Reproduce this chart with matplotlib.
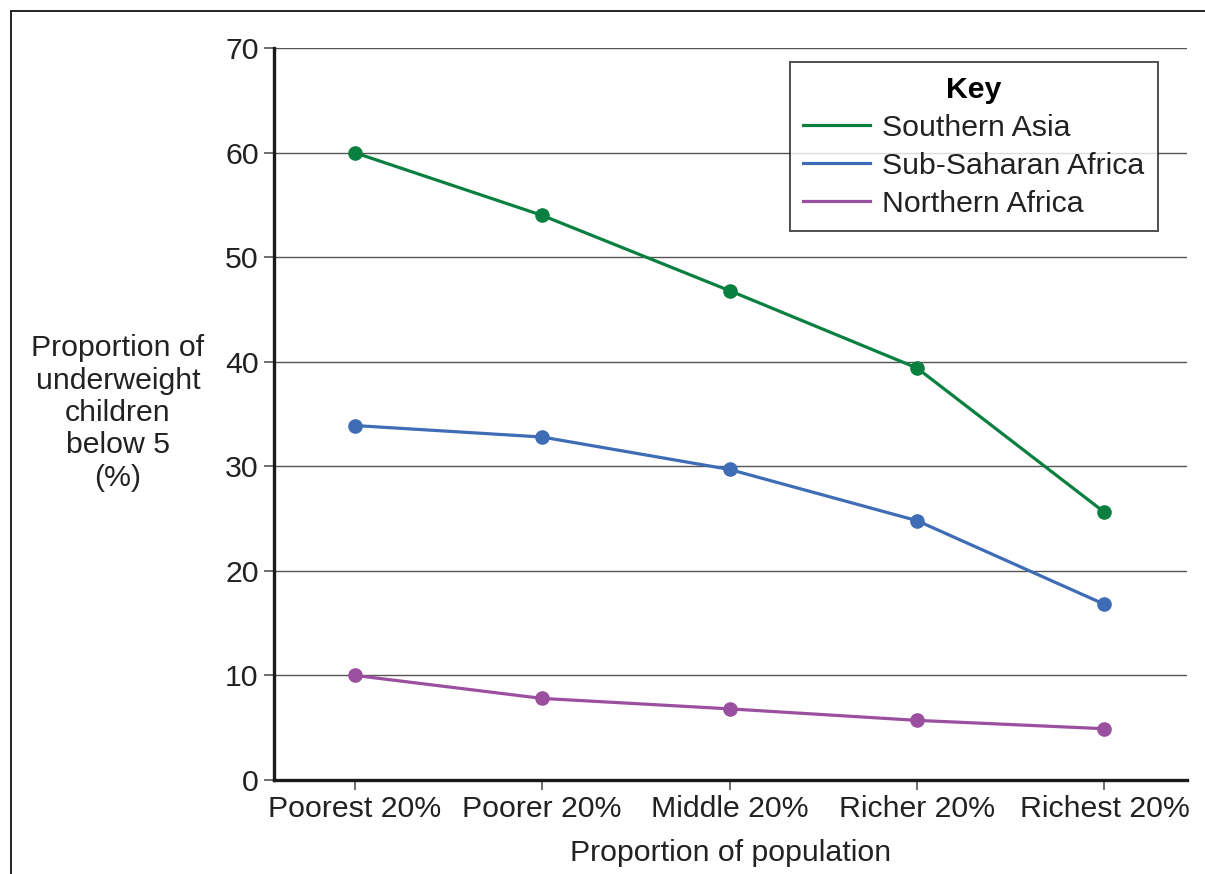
import matplotlib.pyplot as plt
from matplotlib.patches import Rectangle

plt.rcParams["font.family"] = ["Liberation Sans", "DejaVu Sans"]

# data
categories = ["Poorest 20%", "Poorer 20%", "Middle 20%", "Richer 20%", "Richest 20%"]
southern_asia = [60.0, 54.0, 46.8, 39.4, 25.6]
sub_saharan = [33.9, 32.8, 29.7, 24.8, 16.8]
northern_africa = [10.0, 7.8, 6.8, 5.7, 4.9]

series = [
    ("Southern Asia", southern_asia, "#0a8040"),
    ("Sub-Saharan Africa", sub_saharan, "#3e6cb5"),
    ("Northern Africa", northern_africa, "#9b4f9f"),
]

FS = 21.8

fig = plt.figure(figsize=(12.05, 8.74), dpi=100)
ax = fig.add_axes([0.2274, 0.1076, 0.7576, 0.8374])

# outer frame (runs off the right and bottom edges)
fig.patches.append(Rectangle((11 / 1205, -0.1), 1.2, 1 - 11 / 874 + 0.1,
                             transform=fig.transFigure, fill=False,
                             edgecolor="#222222", linewidth=1.4))

x = list(range(len(categories)))
for name, vals, col in series:
    ax.plot(x, vals, color=col, lw=2.3, marker="o", markersize=9.5, label=name, zorder=3)

ax.set_xlim(-0.43, 4.44)
ax.set_ylim(0, 70)
ax.set_yticks(range(0, 71, 10))
ax.set_xticks(x)
ax.set_xticklabels(categories)
ax.grid(axis="y", color="#555555", lw=1.0)
ax.set_axisbelow(True)

for s in ["top", "right"]:
    ax.spines[s].set_visible(False)
for s in ["left", "bottom"]:
    ax.spines[s].set_linewidth(2.4)
    ax.spines[s].set_color("#1a1a1a")

ax.tick_params(axis="both", labelsize=FS, length=7, width=1.2, color="#555555",
               pad=4, labelcolor="#222222")

ax.set_xlabel("Proportion of population", fontsize=FS, color="#222222", labelpad=11.5)
fig.text(118 / 1205, 1 - 413 / 874,
         "Proportion of\nunderweight\nchildren\nbelow 5\n(%)",
         ha="center", va="center", fontsize=FS, color="#222222", linespacing=1.2)

leg = ax.legend(title="Key", loc="upper left", bbox_to_anchor=(0.565, 0.981),
                fontsize=FS, title_fontproperties={"weight": "bold", "size": FS},
                frameon=True, fancybox=False, handlelength=2.2, handletextpad=0.4,
                borderpad=0.45, labelspacing=0.33, borderaxespad=0)
leg.get_frame().set_edgecolor("#222222")
leg.get_frame().set_linewidth(1.4)
for h in leg.legend_handles:
    h.set_marker("")
for t in leg.get_texts():
    t.set_color("#222222")

fig.savefig("out.png", dpi=100)
